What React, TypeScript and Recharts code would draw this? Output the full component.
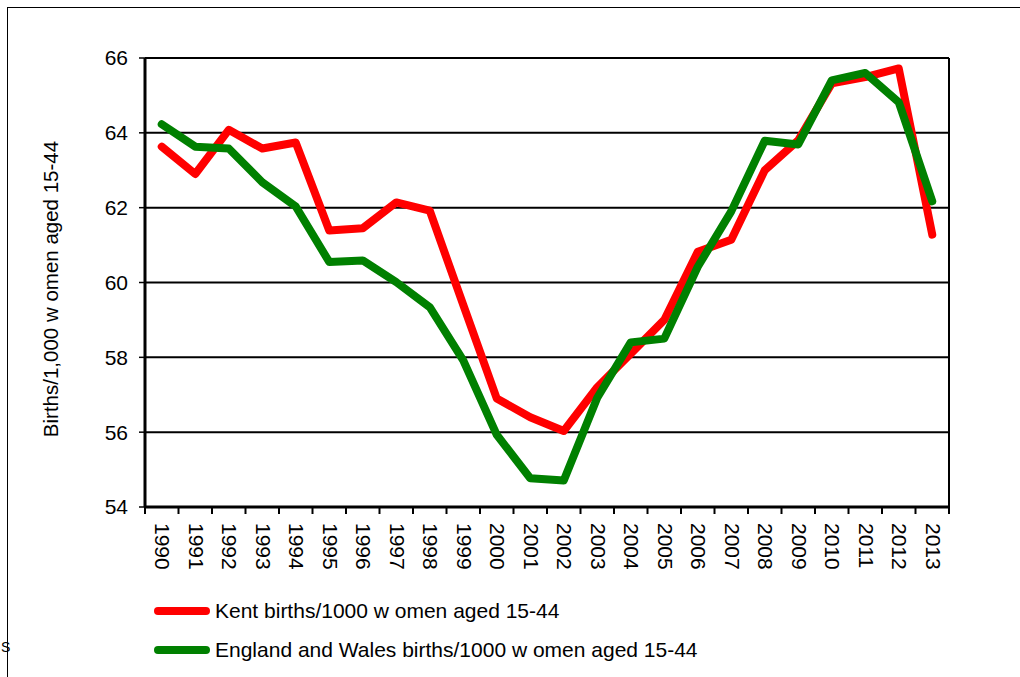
import React from 'react';
import { ComposedChart, Line, XAxis, YAxis, CartesianGrid, Legend } from 'recharts';

const YEARS = ['1990','1991','1992','1993','1994','1995','1996','1997','1998','1999','2000','2001','2002','2003','2004','2005','2006','2007','2008','2009','2010','2011','2012','2013'];
const KENT = [63.63, 62.9, 64.08, 63.58, 63.74, 61.39, 61.45, 62.14, 61.92, 59.4, 56.9, 56.4, 56.03, 57.2, 58.1, 59.0, 60.82, 61.14, 63.0, 63.8, 65.32, 65.49, 65.72, 61.28];
const EW = [64.23, 63.63, 63.58, 62.68, 62.03, 60.55, 60.59, 60.01, 59.34, 57.92, 55.93, 54.77, 54.71, 56.92, 58.4, 58.5, 60.42, 61.9, 63.79, 63.69, 65.4, 65.6, 64.82, 62.17];
const Y_TICKS = [54, 56, 58, 60, 62, 64, 66];
const KENT_NAME = 'Kent births/1000 w omen aged 15-44';
const EW_NAME = 'England and Wales births/1000 w omen aged 15-44';
const Y_TITLE = 'Births/1,000 w omen aged 15-44';
const SERIES_ORDER = ['kent', 'ew'];

const data = YEARS.map((y, i) => ({ year: y, kent: KENT[i], ew: EW[i] }));

const FONT = '"Liberation Sans", Arial, sans-serif';
const W = 1020;
const H = 677;
const PLOT_W = 804;
const BAND = PLOT_W / YEARS.length;

const XTick = (props: any) => {
  const { x, y, payload, index } = props;
  const half = BAND / 2;
  return (
    <g>
      <line x1={x - half} x2={x - half} y1={y} y2={y + 7} stroke="#000" strokeWidth={2} />
      {index === YEARS.length - 1 && (
        <line x1={x + half} x2={x + half} y1={y} y2={y + 7} stroke="#000" strokeWidth={2} />
      )}
      <text
        transform={`translate(${x - 6.5},${y + 16}) rotate(90)`}
        fontSize={21}
        fontFamily={FONT}
        fill="#000"
        textAnchor="start"
      >
        {payload.value}
      </text>
    </g>
  );
};

const LegendContent = (props: any) => {
  const items = [...(props.payload || [])].sort(
    (a: any, b: any) => SERIES_ORDER.indexOf(a.dataKey) - SERIES_ORDER.indexOf(b.dataKey)
  );
  return (
    <div style={{ fontFamily: FONT, fontSize: 21, color: '#000' }}>
      {items.map((p: any, i: number) => (
        <div key={i} style={{ display: 'flex', alignItems: 'center', height: 38.5, whiteSpace: 'nowrap' }}>
          <svg width={58} height={12} style={{ display: 'block' }}>
            <line x1={5} x2={53} y1={6} y2={6} stroke={p.color} strokeWidth={8} strokeLinecap="round" />
          </svg>
          <span style={{ marginLeft: 4 }}>{p.value}</span>
        </div>
      ))}
    </div>
  );
};

export default function App() {
  return (
    <div style={{ position: 'absolute', left: 0, top: 0, width: W, height: H, overflow: 'hidden', background: '#fff' }}>
      <div
        style={{
          position: 'absolute',
          left: 7,
          top: 7,
          width: 1100,
          height: 800,
          borderLeft: '1.5px solid #000',
          borderTop: '1.5px solid #000',
        }}
      />
      <div style={{ position: 'absolute', left: 1, top: 639, fontFamily: FONT, fontSize: 14 }}>S</div>
      <div style={{ position: 'absolute', left: 0, top: 0 }}>
        <ComposedChart width={W} height={H} data={data} margin={{ top: 58, right: 70, bottom: 70, left: 0 }}>
          <CartesianGrid vertical={false} stroke="#000" strokeWidth={2} />
          <XAxis
            dataKey="year"
            scale="band"
            height={100}
            axisLine={{ stroke: '#000', strokeWidth: 3 }}
            tickLine={false}
            tickSize={0}
            tickMargin={0}
            interval={0}
            tick={<XTick />}
          />
          <YAxis
            domain={[54, 66]}
            ticks={Y_TICKS}
            width={145}
            axisLine={{ stroke: '#000', strokeWidth: 3 }}
            tickLine={{ stroke: '#000', strokeWidth: 1.5 }}
            tickSize={6}
            tickMargin={11}
            tick={{ fontSize: 21, fontFamily: FONT, fill: '#000' }}
            label={{
              content: () => (
                <text
                  x={58}
                  y={289}
                  transform="rotate(-90,58,289)"
                  textAnchor="middle"
                  fontSize={20.5}
                  fontFamily={FONT}
                  fill="#000"
                >
                  {Y_TITLE}
                </text>
              ),
            }}
          />
          <YAxis
            yAxisId="r"
            orientation="right"
            domain={[54, 66]}
            width={1}
            tick={false}
            tickLine={false}
            axisLine={{ stroke: '#000', strokeWidth: 2 }}
          />
          <Legend
            layout="vertical"
            align="center"
            verticalAlign="middle"
            content={<LegendContent />}
            wrapperStyle={{ left: 153, top: 592, width: 700, height: 80 }}
          />
          <Line
            type="linear"
            dataKey="kent"
            name={KENT_NAME}
            stroke="#FF0000"
            strokeWidth={8}
            strokeLinejoin="round"
            strokeLinecap="round"
            dot={false}
            activeDot={false}
            isAnimationActive={false}
          />
          <Line
            type="linear"
            dataKey="ew"
            name={EW_NAME}
            stroke="#008000"
            strokeWidth={8}
            strokeLinejoin="round"
            strokeLinecap="round"
            dot={false}
            activeDot={false}
            isAnimationActive={false}
          />
        </ComposedChart>
      </div>
    </div>
  );
}
